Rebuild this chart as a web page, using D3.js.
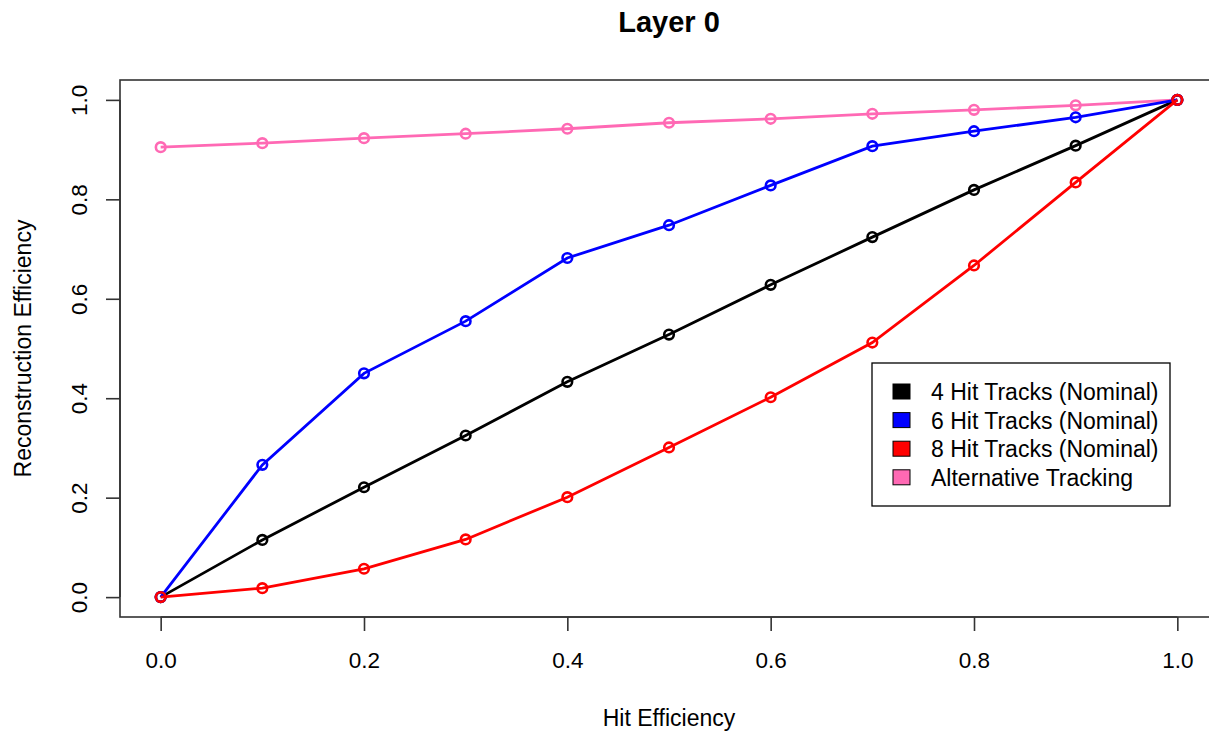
<!DOCTYPE html>
<html>
<head>
<meta charset="utf-8">
<script src="https://cdn.jsdelivr.net/npm/d3@7"></script>
<style>
  html, body { margin: 0; padding: 0; background: #fff; }
  svg text { font-family: "Liberation Sans", Arial, sans-serif; fill: #000; }
</style>
</head>
<body>
<svg id="chart" width="1209" height="731"></svg>
<script>
// ---- data ----
const hitEff = [0.0, 0.1, 0.2, 0.3, 0.4, 0.5, 0.6, 0.7, 0.8, 0.9, 1.0];
const hit4   = [0.0, 0.115, 0.221, 0.325, 0.433, 0.528, 0.628, 0.724, 0.819, 0.908, 1.0];
const hit6   = [0.0, 0.266, 0.450, 0.555, 0.682, 0.748, 0.828, 0.907, 0.937, 0.965, 1.0];
const hit8   = [0.0, 0.018, 0.057, 0.116, 0.201, 0.301, 0.402, 0.512, 0.667, 0.834, 1.0];
const altTrk = [0.905, 0.913, 0.923, 0.932, 0.942, 0.954, 0.962, 0.972, 0.980, 0.989, 1.0];
const xTicks = [0.0, 0.2, 0.4, 0.6, 0.8, 1.0];
const yTicks = [0.0, 0.2, 0.4, 0.6, 0.8, 1.0];
const seriesNames = ["4 Hit Tracks (Nominal)", "6 Hit Tracks (Nominal)", "8 Hit Tracks (Nominal)", "Alternative Tracking"];
const seriesColors = ["#000000", "#0000FF", "#FF0000", "#FF69B4"];
const seriesValues = [hit4, hit6, hit8, altTrk];
const drawOrder = [3, 0, 1, 2];

(function () {
// ---- layout ----
const svg = d3.select("#chart");
const pL = 120, pR = 1218, pT = 80, pB = 617;
const x = d3.scaleLinear().domain([-0.04, 1.04]).range([pL, pR]);
const y = d3.scaleLinear().domain([-0.04, 1.04]).range([pB, pT]);

// box
svg.append("rect")
  .attr("x", pL).attr("y", pT)
  .attr("width", pR - pL).attr("height", pB - pT)
  .attr("fill", "none").attr("stroke", "#333").attr("stroke-width", 1.6);

// axes
const fmt = d3.format(".1f");
const xAxis = d3.axisBottom(x).tickValues(xTicks).tickFormat(fmt).tickSize(14).tickPadding(8);
const gx = svg.append("g").attr("transform", `translate(0,${pB})`).call(xAxis);
gx.select(".domain").attr("d", `M${x(0)},0H${x(1)}`).attr("stroke", "#333").attr("stroke-width", 1.6);
gx.selectAll(".tick line").attr("stroke", "#333").attr("stroke-width", 1.6);
gx.selectAll(".tick text").attr("font-size", 22.5).attr("font-family", "Liberation Sans, Arial, sans-serif")
  .attr("fill", "#000").attr("y", 51).attr("dy", null);

const yAxis = d3.axisLeft(y).tickValues(yTicks).tickFormat(fmt).tickSize(14).tickPadding(8);
const gy = svg.append("g").attr("transform", `translate(${pL},0)`).call(yAxis);
gy.select(".domain").attr("d", `M0,${y(0)}V${y(1)}`).attr("stroke", "#333").attr("stroke-width", 1.6);
gy.selectAll(".tick line").attr("stroke", "#333").attr("stroke-width", 1.6);
gy.selectAll(".tick text").attr("font-size", 22.5).attr("font-family", "Liberation Sans, Arial, sans-serif")
  .attr("fill", "#000").attr("x", 0).attr("y", 0).attr("dy", null)
  .attr("text-anchor", "middle")
  .attr("transform", "translate(-33,0) rotate(-90)");

// titles
svg.append("text").attr("x", (pL + pR) / 2).attr("y", 32)
  .attr("text-anchor", "middle").attr("font-size", 29).attr("font-weight", "bold").text("Layer 0");
svg.append("text").attr("x", (pL + pR) / 2).attr("y", 726)
  .attr("text-anchor", "middle").attr("font-size", 23).text("Hit Efficiency");
svg.append("text").attr("transform", `translate(31,${(pT + pB) / 2}) rotate(-90)`)
  .attr("text-anchor", "middle").attr("font-size", 23).text("Reconstruction Efficiency");

// series
const line = d3.line().x((d, i) => x(hitEff[i])).y(d => y(d));
drawOrder.forEach(k => {
  const g = svg.append("g");
  g.append("path").datum(seriesValues[k])
    .attr("d", line).attr("fill", "none")
    .attr("stroke", seriesColors[k]).attr("stroke-width", 2.8);
  g.selectAll("circle").data(seriesValues[k]).join("circle")
    .attr("cx", (d, i) => x(hitEff[i])).attr("cy", d => y(d)).attr("r", 4.8)
    .attr("fill", "none").attr("stroke", seriesColors[k]).attr("stroke-width", 2.6);
});

// legend
const lg = svg.append("g");
lg.append("rect").attr("x", 872).attr("y", 363).attr("width", 298).attr("height", 143)
  .attr("fill", "#fff").attr("stroke", "#000").attr("stroke-width", 1.3);
seriesNames.forEach((name, i) => {
  const cy = 392 + i * 28.6;
  lg.append("rect").attr("x", 893).attr("y", cy - 8).attr("width", 17).attr("height", 15)
    .attr("fill", seriesColors[i]).attr("stroke", "#000").attr("stroke-width", 1);
  lg.append("text").attr("x", 931).attr("y", cy + 8).attr("font-size", 23).text(name);
});
})();
</script>
</body>
</html>
